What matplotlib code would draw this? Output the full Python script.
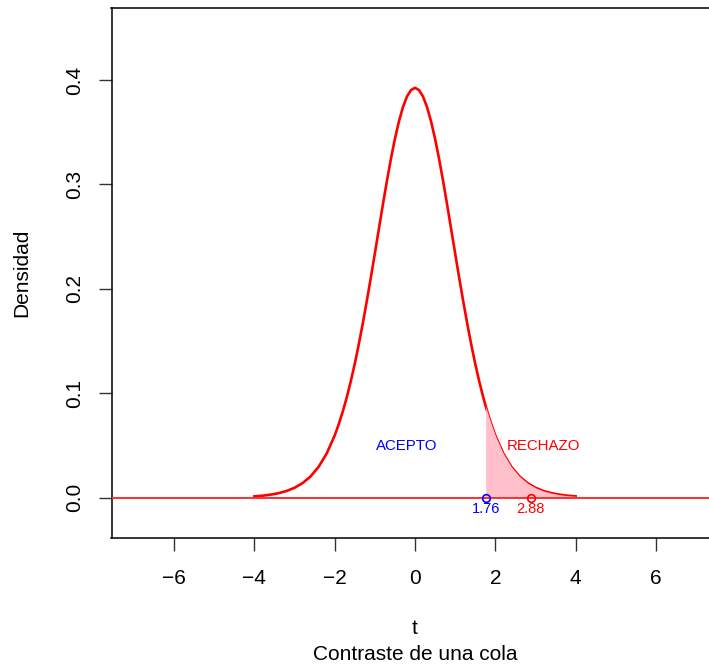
import matplotlib
matplotlib.use("Agg")
import matplotlib.pyplot as plt

plt.rcParams['font.family'] = ['Liberation Sans', 'DejaVu Sans']

# t density (14 gl), x from -4 to 4
t_vals = [-4.0, -3.8, -3.6, -3.4, -3.2, -3.0, -2.8, -2.6, -2.4, -2.2,
          -2.0, -1.9, -1.8, -1.7, -1.6, -1.5, -1.4, -1.3, -1.2, -1.1,
          -1.0, -0.9, -0.8, -0.7, -0.6, -0.5, -0.4, -0.3, -0.2, -0.1,
          0.0,
          0.1, 0.2, 0.3, 0.4, 0.5, 0.6, 0.7, 0.8, 0.9, 1.0,
          1.1, 1.2, 1.3, 1.4, 1.5, 1.6, 1.7, 1.8, 1.9, 2.0,
          2.2, 2.4, 2.6, 2.8, 3.0, 3.2, 3.4, 3.6, 3.8, 4.0]
dens = [0.0013, 0.0019, 0.0029, 0.0043, 0.0064, 0.0095, 0.0140, 0.0204, 0.0296, 0.0423,
        0.0596, 0.0703, 0.0824, 0.0961, 0.1114, 0.1283, 0.1469, 0.1670, 0.1884, 0.2108,
        0.2340, 0.2574, 0.2807, 0.3033, 0.3245, 0.3437, 0.3604, 0.3741, 0.3842, 0.3904,
        0.3925,
        0.3904, 0.3842, 0.3741, 0.3604, 0.3437, 0.3245, 0.3033, 0.2807, 0.2574, 0.2340,
        0.2108, 0.1884, 0.1670, 0.1469, 0.1283, 0.1114, 0.0961, 0.0824, 0.0703, 0.0596,
        0.0423, 0.0296, 0.0204, 0.0140, 0.0095, 0.0064, 0.0043, 0.0029, 0.0019, 0.0013]

t_crit = 1.76       # valor critico
dens_crit = 0.0877  # altura de la curva en el valor critico
t_obs = 2.88        # estadistico observado

x_ticks = [-6, -4, -2, 0, 2, 4, 6]
y_ticks = [0.0, 0.1, 0.2, 0.3, 0.4]

W, H = 709, 665
fig = plt.figure(figsize=(W / 100, H / 100), dpi=100)
# plot box runs slightly past the right edge, like the original
ax = fig.add_axes([111.5 / W, 1 - 538 / H, (718.5 - 111.5) / W, (538 - 8) / H])

ax.plot(t_vals, dens, color='red', lw=1.9, zorder=2)

# rejection region
fx = [t_crit] + [x for x in t_vals if x > t_crit]
fy = [dens_crit] + [y for x, y in zip(t_vals, dens) if x > t_crit]
ax.fill_between(fx, fy, 0, color='pink', lw=0, zorder=3)

ax.axhline(0, color='#ff3030', lw=1.4, zorder=4)

ax.plot([t_crit], [0], 'o', mfc='none', mec='blue', ms=5.5, mew=1.2, zorder=5)
ax.plot([t_obs], [0], 'o', mfc='none', mec='red', ms=5.5, mew=1.2, zorder=5)
ax.annotate('1.76', (t_crit, 0), xytext=(0, -3), textcoords='offset points',
            ha='center', va='top', color='blue', fontsize=10.5)
ax.annotate('2.88', (t_obs, 0), xytext=(0, -3), textcoords='offset points',
            ha='center', va='top', color='red', fontsize=10.5)

ax.text(-0.2, 0.0495, 'ACEPTO', color='blue', fontsize=10.8, ha='center', va='center')
ax.text(3.2, 0.0495, 'RECHAZO', color='red', fontsize=10.8, ha='center', va='center')

ax.set_xlim(-7.56, 7.56)
ax.set_ylim(-0.0386, 0.469)
ax.set_xticks(x_ticks)
ax.set_xticklabels([str(v).replace('-', '\u2212') for v in x_ticks])
ax.set_yticks(y_ticks)
ax.set_yticklabels(['%.1f' % v for v in y_ticks], rotation=90, va='center')
ax.tick_params(direction='out', length=9.5, width=1, labelsize=15, color='#333333')
ax.tick_params(axis='x', pad=13)
ax.tick_params(axis='y', pad=10)
for s in ax.spines.values():
    s.set_linewidth(1.1)

fig.text(415 / W, 1 - 628 / H, 't', ha='center', va='center', fontsize=15)
fig.text(415 / W, 1 - 655 / H, 'Contraste de una cola', ha='center', va='center', fontsize=15)
fig.text(22 / W, 1 - 273 / H, 'Densidad', ha='center', va='center', rotation=90, fontsize=15)

fig.savefig('out.png', dpi=100)
